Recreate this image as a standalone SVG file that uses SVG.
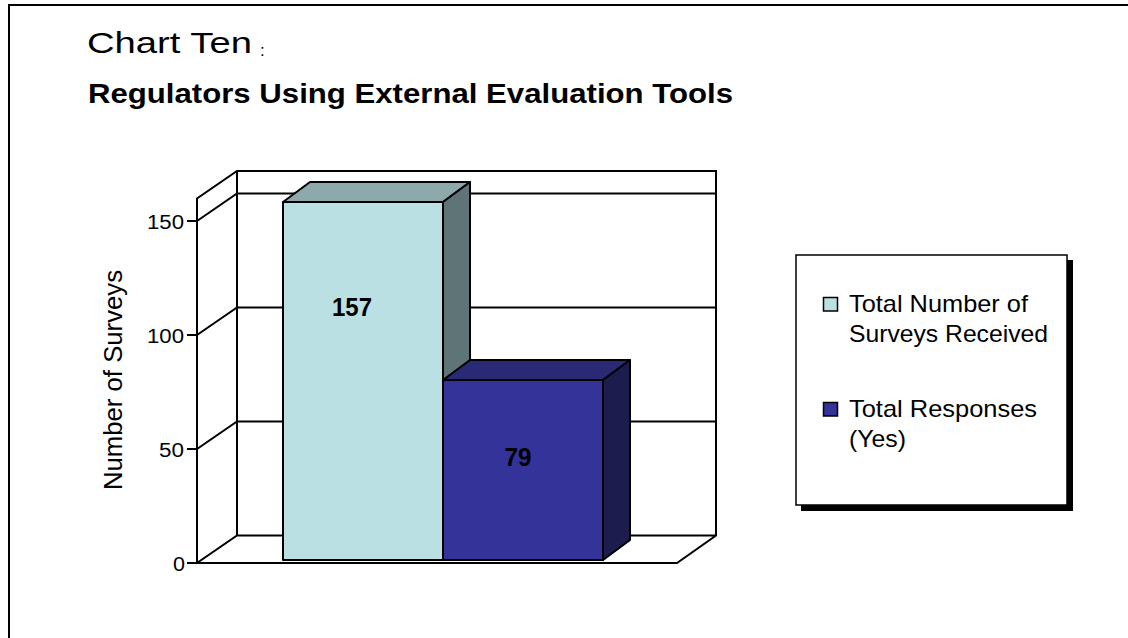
<svg xmlns="http://www.w3.org/2000/svg" width="1128" height="638" viewBox="0 0 1128 638">
<style>
text{font-family:"Liberation Sans",Arial,sans-serif;fill:#000}
.ln{stroke:#000;stroke-width:2;fill:none}
.bar{stroke:#000;stroke-width:2;stroke-linejoin:round}
.tick{font-size:20.5px;text-anchor:end}
.leg{font-size:24px}
.val{font-size:26px;font-weight:bold;text-anchor:middle}
</style>
<rect x="0" y="0" width="1128" height="638" fill="#fff"/>
<g id="frame">
<path class="ln" d="M9,638 V5 H1128"/>
</g>
<g id="titles">
<text x="87" y="53" font-size="29.5" textLength="165" lengthAdjust="spacingAndGlyphs">Chart Ten</text>
<text x="260" y="56" font-size="17">:</text>
<text x="88" y="103" font-size="28" font-weight="bold" textLength="645" lengthAdjust="spacingAndGlyphs">Regulators Using External Evaluation Tools</text>
</g>
<g id="axes">
<path class="ln" d="M197,563 V198.5 L237,171 H716 V535.5 L677,563 H197 L237,535.5 H716 M237,171 V535.5"/>
<path class="ln" d="M197,221 L237,193.5 H716 M197,335 L237,307.5 H716 M197,449 L237,421.5 H716"/>
<path class="ln" d="M187,221 H197 M187,335 H197 M187,449 H197 M187,563 H197"/>
<text class="tick" x="184" y="228.5" textLength="37" lengthAdjust="spacingAndGlyphs">150</text>
<text class="tick" x="184" y="342.5" textLength="37" lengthAdjust="spacingAndGlyphs">100</text>
<text class="tick" x="184" y="456.5" textLength="25" lengthAdjust="spacingAndGlyphs">50</text>
<text class="tick" x="185" y="570.5" textLength="12" lengthAdjust="spacingAndGlyphs">0</text>
<text x="0" y="0" font-size="25" text-anchor="middle" textLength="220" lengthAdjust="spacingAndGlyphs" transform="translate(122,380) rotate(-90)">Number of Surveys</text>
</g>
<g id="bar-received">
<polygon class="bar" fill="#8EA9AB" points="283,202 310,182 470,182 443,202"/>
<polygon class="bar" fill="#5F7476" points="443,202 470,182 470,540 443,560"/>
<rect class="bar" fill="#BBE0E3" x="283" y="202" width="160" height="358"/>
<text class="val" x="352" y="316" textLength="40" lengthAdjust="spacingAndGlyphs">157</text>
</g>
<g id="bar-yes">
<polygon class="bar" fill="#292975" points="443,380 470,360 630,360 603,380"/>
<polygon class="bar" fill="#1C1C4E" points="603,380 630,360 630,540 603,560"/>
<rect class="bar" fill="#333399" x="443" y="380" width="160" height="180"/>
<text class="val" x="518" y="466" textLength="27" lengthAdjust="spacingAndGlyphs">79</text>
</g>
<g id="legend">
<rect x="801" y="260" width="272" height="251" fill="#000"/>
<rect x="796" y="255" width="271" height="250" fill="#fff" stroke="#000" stroke-width="1.5"/>
<rect x="823.5" y="297.5" width="14" height="13.5" fill="#BBE0E3" stroke="#000" stroke-width="1.5"/>
<text class="leg" x="849" y="312" textLength="179" lengthAdjust="spacingAndGlyphs">Total Number of</text>
<text class="leg" x="849" y="342" textLength="199" lengthAdjust="spacingAndGlyphs">Surveys Received</text>
<rect x="823.5" y="402.5" width="14" height="13.5" fill="#333399" stroke="#000" stroke-width="1.5"/>
<text class="leg" x="849" y="417" textLength="188" lengthAdjust="spacingAndGlyphs">Total Responses</text>
<text class="leg" x="849" y="447" textLength="57" lengthAdjust="spacingAndGlyphs">(Yes)</text>
</g>
</svg>
